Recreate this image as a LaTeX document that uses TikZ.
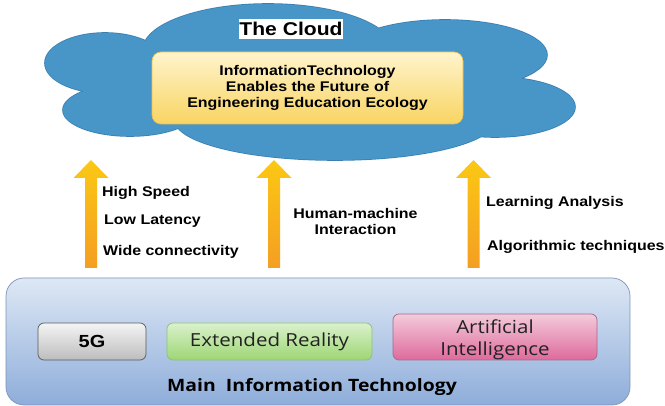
\documentclass[tikz,border=0pt]{standalone}
\usepackage{fontspec}
\setmainfont[FakeStretch=1.14]{Liberation Sans}
\newfontfamily\uifont[FakeStretch=1.14]{Open Sans}

\definecolor{cloudblue}{HTML}{4896C8}
\definecolor{cloudedge}{HTML}{3A7FB2}
\definecolor{coretop}{HTML}{FFF4CC}
\definecolor{corebot}{HTML}{F8D462}
\definecolor{coreedge}{HTML}{EDBE50}
\definecolor{arrowtop}{HTML}{FCC814}
\definecolor{arrowbot}{HTML}{F49E22}
\definecolor{basetop}{HTML}{DEE8F5}
\definecolor{basebot}{HTML}{8EADDA}
\definecolor{baseedge}{HTML}{7D93B8}
\definecolor{greytop}{HTML}{F4F4F4}
\definecolor{greybot}{HTML}{BDBDBD}
\definecolor{greenedge}{HTML}{8CC46A}
\definecolor{greentop}{HTML}{DAF1CB}
\definecolor{greenbot}{HTML}{9DD674}
\definecolor{pinktop}{HTML}{F3CBDB}
\definecolor{pinkbot}{HTML}{DE6A9C}
\definecolor{pinkedge}{HTML}{A86887}
\definecolor{inktext}{HTML}{222222}

\newcommand\cloudlobes{%
  (105,63) ellipse [x radius=60, y radius=30]
  (130,110) ellipse [x radius=67, y radius=26]
  (268,50) ellipse [x radius=125, y radius=46]
  (445,55) ellipse [x radius=102, y radius=35]
  (495,107) ellipse [x radius=80, y radius=30]
  (335,120) ellipse [x radius=160, y radius=40]}

\tikzset{
  lbl/.style={font=\bfseries\fontsize{14}{16}\selectfont, inner sep=0pt, text=black},
  corebox/.style={draw=coreedge, line width=0.6pt, rounded corners=9pt,
    top color=coretop, bottom color=corebot, align=center,
    font=\bfseries\fontsize{14}{16}\selectfont, inner sep=0pt},
  basebox/.style={draw=baseedge, line width=0.7pt, rounded corners=18pt,
    top color=basetop, bottom color=basebot, inner sep=0pt},
  techbox/.style={line width=0.7pt, rounded corners=6pt, inner sep=0pt,
    font=\uifont\fontsize{18}{22}\selectfont, text=inktext, align=center},
  blockarrow/.pic={
    \shade[top color=arrowtop, bottom color=arrowbot]
      (-6,0) -- (-6,-90) -- (-17.5,-90) -- (0,-108) -- (17.5,-90)
      -- (6,-90) -- (6,0) -- cycle;
  }
}

\begin{document}
\begin{tikzpicture}[x=1pt, y=-1pt]
\useasboundingbox (0,0) rectangle (665,406);
\fill[white] (0,0) rectangle (665,406);

% cloud: outline pass, then fill pass over it
\path[draw=cloudedge, line width=1.6pt] \cloudlobes;
\fill[cloudblue] \cloudlobes;
\fill[cloudblue] (130,45) rectangle (510,125);

\node[fill=white, inner sep=0pt, minimum width=104pt, minimum height=20pt,
      font=\bfseries\fontsize{18.5}{20}\selectfont] (title) at (291,29) {The Cloud};

\node[corebox, minimum width=311pt, minimum height=72pt] (core) at (307.5,88)
  {InformationTechnology\\Enables the Future of\\Engineering Education Ecology};

% main technology layer
\node[basebox, minimum width=624pt, minimum height=127pt] (base) at (318,341.5) {};
\node[techbox, draw=black!65, top color=greytop, bottom color=greybot,
      minimum width=108pt, minimum height=37pt,
      font=\bfseries\fontsize{17.5}{20}\selectfont, text=black] (g5) at (92,341.5) {5G};
\node[techbox, draw=greenedge, top color=greentop, bottom color=greenbot,
      minimum width=205pt, minimum height=37pt] (xr) at (269.5,341.5) {Extended Reality};
\node[techbox, draw=pinkedge, top color=pinktop, bottom color=pinkbot,
      minimum width=204pt, minimum height=46pt] (ai) at (495,337)
  {\rule{0pt}{19.5pt}Artificial\\Intelligence};
\node[inner sep=0pt, anchor=base, font=\uifont\bfseries\fontsize{17}{20}\selectfont]
  (layer) at (312,392) {Main~~Information Technology};

% upward block arrows from the layer to the cloud
\coordinate (a1) at (91,268);
\coordinate (a2) at (274,268);
\coordinate (a3) at (473.5,268);
\pic at (a1) {blockarrow};
\pic at (a2) {blockarrow};
\pic at (a3) {blockarrow};

% arrow captions
\node[lbl, anchor=base west] (speed) at (102,197) {High Speed};
\node[lbl, anchor=base west] (latency) at (104,225) {Low Latency};
\node[lbl, anchor=base west] (conn) at (103,256) {Wide connectivity};
\node[lbl, align=center] (hmi) at (355.5,221) {Human-machine\\Interaction};
\node[lbl, anchor=base west] (learn) at (486,207) {Learning Analysis};
\node[lbl, anchor=base west] (algo) at (487,251) {Algorithmic techniques};
\end{tikzpicture}
\end{document}
